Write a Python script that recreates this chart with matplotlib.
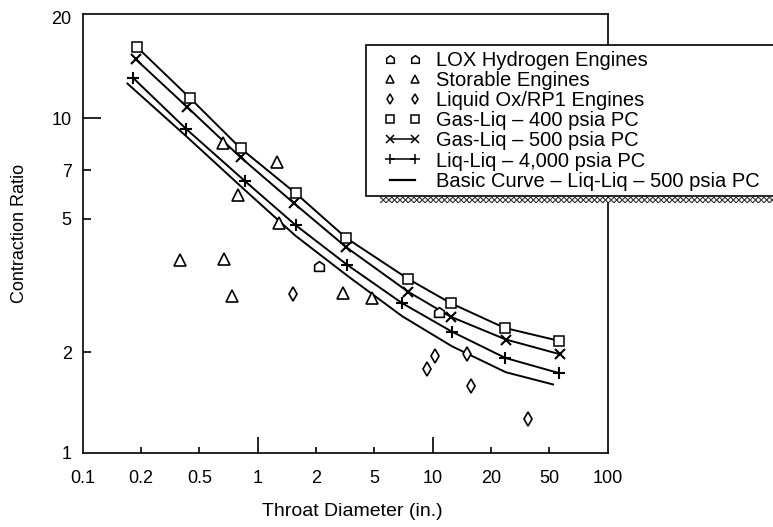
import numpy as np
import matplotlib.pyplot as plt
from matplotlib.lines import Line2D
from matplotlib.path import Path
from matplotlib.patches import Rectangle

plt.rcParams['font.family'] = ['Liberation Sans', 'DejaVu Sans']
plt.rcParams['hatch.linewidth'] = 0.8

# values (x = throat diameter in., y = contraction ratio)
gas400_x = [0.191, 0.431, 0.816, 1.57, 3.23, 7.47, 12.4, 24.9, 56.2]
gas400_y = [16.3, 11.5, 8.13, 5.97, 4.38, 3.31, 2.80, 2.36, 2.16]

gas500_x = [0.188, 0.413, 0.816, 1.54, 3.23, 7.47, 12.4, 25.3, 56.7]
gas500_y = [15.0, 10.8, 7.64, 5.57, 4.11, 3.03, 2.55, 2.18, 1.97]

liq4000_x = [0.182, 0.405, 0.859, 1.57, 3.28, 6.96, 12.6, 25.1, 56.2]
liq4000_y = [13.2, 9.30, 6.49, 4.79, 3.64, 2.80, 2.30, 1.92, 1.73]

basic_x = [0.170, 0.405, 0.859, 1.57, 3.28, 6.96, 12.6, 25.3, 52.3]
basic_y = [12.7, 8.85, 6.10, 4.45, 3.38, 2.56, 2.08, 1.74, 1.60]

storable_x = [0.664, 1.26, 0.793, 1.29, 0.368, 0.669, 0.739, 3.04, 4.86]
storable_y = [8.42, 7.42, 5.90, 4.87, 3.77, 3.79, 2.95, 3.00, 2.90]

lox_x = [2.09, 10.8]
lox_y = [3.62, 2.64]

rp1_x = [1.53, 9.31, 10.3, 15.1, 15.8, 35.9]
rp1_y = [2.98, 1.78, 1.95, 1.97, 1.58, 1.26]

x_ticks = [0.1, 0.2, 0.5, 1, 2, 5, 10, 20, 50, 100]
x_labels = ['0.1', '0.2', '0.5', '1', '2', '5', '10', '20', '50', '100']
y_ticks = [1, 2, 5, 7, 10, 20]
y_labels = ['1', '2', '5', '7', '10', '20']

legend_labels = ['LOX Hydrogen Engines', 'Storable Engines', 'Liquid Ox/RP1 Engines',
                 'Gas-Liq \u2013 400 psia PC', 'Gas-Liq \u2013 500 psia PC',
                 'Liq-Liq \u2013 4,000 psia PC', 'Basic Curve \u2013 Liq-Liq \u2013 500 psia PC']


# the x axis of the original puts 1, 2, 5 at equal steps inside each decade
def fwd(v):
    v = np.clip(np.asarray(v, dtype=float), 1e-300, None)
    d = np.floor(np.log10(v) + 1e-12)
    m = v / 10.0 ** d
    seg = np.where(m < 2, np.log(m) / np.log(2) / 3,
                   np.where(m < 5, 1 / 3 + np.log(m / 2) / np.log(2.5) / 3,
                            2 / 3 + np.log(m / 5) / np.log(2) / 3))
    return d + seg


def inv(p):
    p = np.asarray(p, dtype=float)
    d = np.floor(p)
    f = (p - d) * 3
    m = np.where(f < 1, 2.0 ** f, np.where(f < 2, 2 * 2.5 ** (f - 1), 5 * 2.0 ** (f - 2)))
    return 10.0 ** d * m


house = Path([(-1, -1), (1, -1), (1, 0.3), (0, 1), (-1, 0.3), (-1, -1)],
             [Path.MOVETO, Path.LINETO, Path.LINETO, Path.LINETO, Path.LINETO, Path.CLOSEPOLY])

fig = plt.figure(figsize=(7.73, 5.27), dpi=100)
ax = fig.add_axes([0.1071, 0.1410, 0.6788, 0.8324])
ax.set_xscale('function', functions=(fwd, inv))
ax.set_yscale('log')

lw = 1.4
ax.plot(basic_x, basic_y, color='black', lw=lw)
ax.plot(liq4000_x, liq4000_y, color='black', lw=lw, marker='+', ms=9, mew=1.5)
ax.plot(gas500_x, gas500_y, color='black', lw=lw, marker='x', ms=7, mew=1.5)
ax.plot(gas400_x, gas400_y, color='black', lw=lw, marker='s', ms=7, mew=1.1,
        mfc='white', mec='black')
ax.plot(storable_x, storable_y, ls='none', marker='^', ms=8.5, mew=1.2, mfc='white', mec='black')
ax.plot(lox_x, lox_y, ls='none', marker=house, ms=7, mew=1.2, mfc='white', mec='black')
ax.plot(rp1_x, rp1_y, ls='none', marker='d', ms=7, mew=1.2, mfc='white', mec='black')

ax.set_xlim(0.1, 100)
ax.set_ylim(1, 20.5)
ax.set_xticks(x_ticks, x_labels)
ax.set_yticks(y_ticks, y_labels)
ax.minorticks_off()
ax.tick_params(direction='in', width=1.2, colors='black', labelsize=13)
ax.tick_params(axis='x', pad=12.5)
ax.tick_params(axis='y', pad=8)

x_len = [0, 4.3, 4.3, 11.5, 4.3, 4.3, 11.5, 4.3, 4.3, 0]
for t, n in zip(ax.xaxis.get_major_ticks(), x_len):
    t.tick1line.set_markersize(n)
y_len = [0, 5.8, 5.8, 5.8, 13, 0]
for t, n in zip(ax.yaxis.get_major_ticks(), y_len):
    t.tick1line.set_markersize(n)

for s in ax.spines.values():
    s.set_linewidth(1.2)

ax.set_xlabel('Throat Diameter (in.)', fontsize=14)
ax.set_ylabel('Contraction Ratio', fontsize=13)
ax.xaxis.set_label_coords(0.513, -0.115)
ax.yaxis.set_label_coords(-0.104, 0.5)

# legend box runs off the right edge of the figure, with a hatched shadow below
fig.patches.append(Rectangle((366 / 773, 1 - 196 / 527), 0.56, 151 / 527,
                             transform=fig.transFigure, facecolor='white',
                             edgecolor='black', lw=1.2, zorder=3))
fig.patches.append(Rectangle((380 / 773, 1 - 203 / 527), 0.53, 6 / 527,
                             transform=fig.transFigure, facecolor='white',
                             edgecolor='#333333', hatch='xxxxxx', lw=0, zorder=3))

handles = [
    Line2D([], [], ls='none', marker=house, ms=5.5, mew=1.1, mfc='white', mec='black'),
    Line2D([], [], ls='none', marker='^', ms=6, mew=1.1, mfc='white', mec='black'),
    Line2D([], [], ls='none', marker='d', ms=5.5, mew=1.1, mfc='white', mec='black'),
    Line2D([], [], ls='none', marker='s', ms=5.5, mew=1.1, mfc='white', mec='black'),
    Line2D([], [], color='black', lw=1.1, marker='x', ms=5.5, mew=1.1),
    Line2D([], [], color='black', lw=1.1, marker='+', ms=7, mew=1.1),
    Line2D([], [], color='black', lw=1.6),
]
leg = fig.legend(handles, legend_labels, loc='upper left',
                 bbox_to_anchor=(383.5 / 773, 1 - 51 / 527), frameon=False,
                 fontsize=14.5, numpoints=2, handlelength=1.85, handletextpad=0.78,
                 labelspacing=0.055, borderpad=0, borderaxespad=0)
leg.set_zorder(4)

fig.savefig('out.png', dpi=100)
